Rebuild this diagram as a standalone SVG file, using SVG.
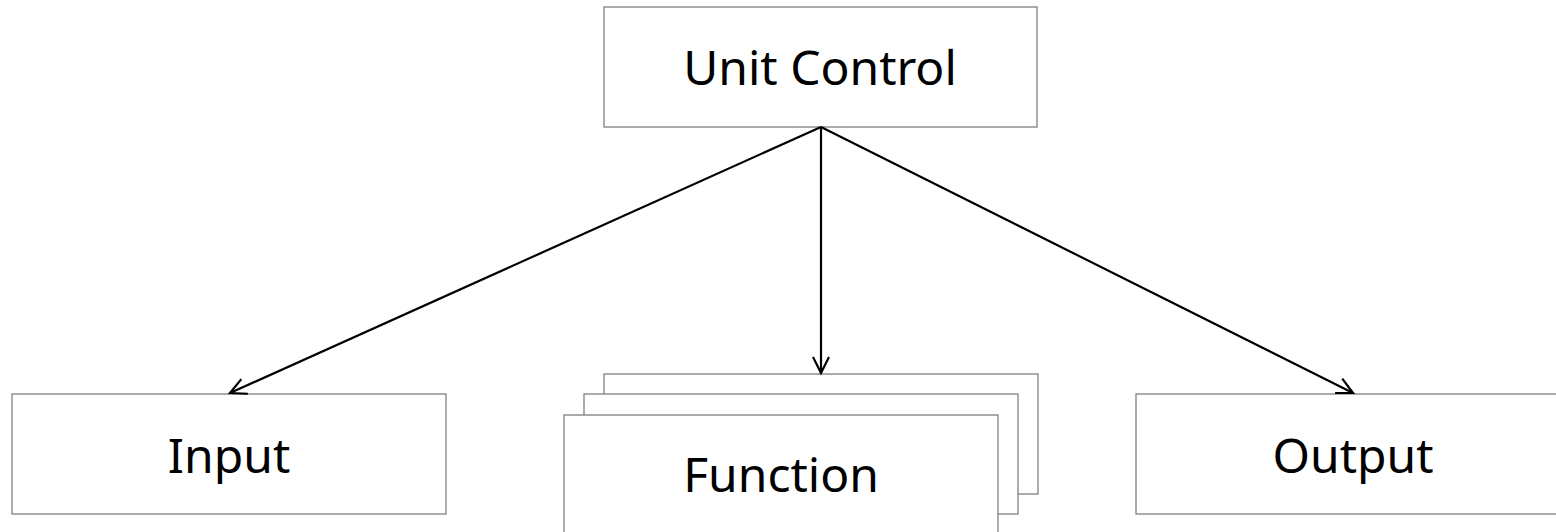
<svg xmlns="http://www.w3.org/2000/svg" width="1556" height="532" viewBox="0 0 1556 532">
  <style>
    .box { fill: #ffffff; stroke: #7f7f7f; stroke-width: 1.3; }
    .label { font-family: "Noto Sans", "Open Sans", sans-serif; font-size: 48px; fill: #000000; text-anchor: middle; }
    .edge { fill: none; stroke: #000000; stroke-width: 2.2; marker-end: url(#open-arrow); }
  </style>
  <defs>
    <marker id="open-arrow" viewBox="0 0 20 20" refX="17" refY="10" markerWidth="20" markerHeight="20" markerUnits="userSpaceOnUse" orient="auto">
      <path d="M1,2 L17,10 L1,18" fill="none" stroke="#000000" stroke-width="2.2"/>
    </marker>
  </defs>
  <rect width="1556" height="532" fill="#ffffff"/>

  <g id="unit-control">
    <rect class="box" x="604" y="7" width="433" height="120"/>
    <text class="label" x="820" y="85">Unit Control</text>
  </g>

  <g id="input">
    <rect class="box" x="12" y="394" width="434" height="120"/>
    <text class="label" x="229" y="473">Input</text>
  </g>

  <g id="function">
    <rect class="box" x="604" y="374" width="434" height="120"/>
    <rect class="box" x="584" y="394" width="434" height="120"/>
    <rect class="box" x="564" y="415" width="434" height="120"/>
    <text class="label" x="781" y="492">Function</text>
  </g>

  <g id="output">
    <rect class="box" x="1136" y="394" width="434" height="120"/>
    <text class="label" x="1353" y="473">Output</text>
  </g>

  <g id="connectors">
    <line class="edge" x1="821" y1="127" x2="230" y2="393"/>
    <line class="edge" x1="821" y1="127" x2="821" y2="373"/>
    <line class="edge" x1="821" y1="127" x2="1353" y2="393"/>
  </g>
</svg>
